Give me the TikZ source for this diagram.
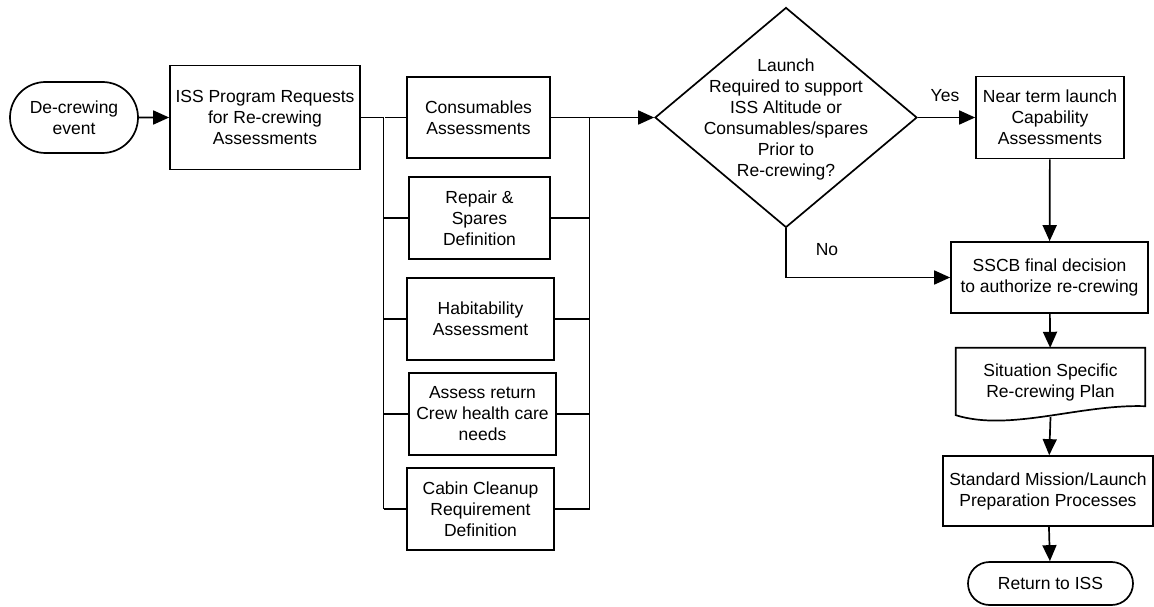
\documentclass[tikz,border=0pt]{standalone}
\usepackage{fontspec}
\setmainfont{Liberation Sans}
\usetikzlibrary{positioning,arrows.meta,shapes.geometric,shapes.misc}

\tikzset{
  flow/.style={font=\fontsize{17.5}{21}\selectfont, align=center, inner sep=2pt},
  procbox/.style={flow, draw, line width=1.7pt, rectangle},
  termbox/.style={flow, draw, line width=1.7pt, rounded rectangle},
  decbox/.style={draw, line width=1.7pt, diamond, inner sep=0pt},
  link/.style={line width=1.7pt},
  arr/.style={link, -{Triangle[length=16pt,width=14pt]}},
  bus/.style={line width=1pt, double, double distance=0.6pt},
}

\begin{document}
\begin{tikzpicture}[x=1pt, y=-1pt]
  \useasboundingbox (0,0) rectangle (1154,607);
  % Main row
  \node[termbox, minimum width=132pt, minimum height=71pt] (start) at (74,117.5) {De-crewing\\event};
  \node[procbox, minimum width=190pt, minimum height=104pt] (req) at (265,117.5) {ISS Program Requests\\for Re-crewing\\Assessments};
  % Assessment column
  \node[procbox, minimum width=143pt, minimum height=81pt] (cons) at (478.5,117.5) {Consumables\\Assessments};
  \node[procbox, minimum width=141pt, minimum height=82pt] (rep) at (479.5,218) {Repair \&\\Spares\\Definition};
  \node[procbox, minimum width=147pt, minimum height=82pt] (hab) at (480.5,319) {Habitability\\Assessment};
  \node[procbox, minimum width=147pt, minimum height=82pt] (crew) at (482.5,414) {Assess return\\Crew health care\\needs};
  \node[procbox, minimum width=147pt, minimum height=82pt] (cabin) at (480.5,509) {Cabin Cleanup\\Requirement\\Definition};
  % Decision
  \node[decbox, minimum width=262pt, minimum height=220pt] (dec) at (786,117.5) {};
  \node[flow] (dectext) at (786,119) {Launch\\Required to support\\ISS Altitude or\\Consumables/spares\\Prior to\\Re-crewing?};
  % Right column
  \node[procbox, minimum width=148pt, minimum height=82pt] (near) at (1050,117.5) {Near term launch\\Capability\\Assessments};
  \node[procbox, minimum width=197pt, minimum height=71pt] (sscb) at (1049.5,277.5) {SSCB final decision\\to authorize re-crewing};
  \node[flow, minimum width=189pt, minimum height=69pt] (plan) at (1050.5,382.5) {Situation Specific\\Re-crewing Plan};
  \draw[link] (plan.north west) -- (plan.north east) -- ([yshift=11pt]plan.south east)
    .. controls (1080,404) and (1010,432) .. ([yshift=2pt]plan.south west) -- cycle;
  \node[procbox, minimum width=210pt, minimum height=70pt] (std) at (1048,491) {Standard Mission/Launch\\Preparation Processes};
  \node[termbox, minimum width=169pt, minimum height=43pt] (ret) at (1050.5,583.5) {Return to ISS};

  % Connectors
  \draw[arr] (start) -- (req);
  \draw[link] (req.east) -- (cons.west);
  \coordinate (busL) at (384,117.5);
  \coordinate (busR) at (590,117.5);
  \draw[bus] (busL) -- (busL |- cabin.west);
  \draw[bus] (busR) -- (busR |- cabin.east);
  \foreach \b in {rep,hab,crew,cabin} {
    \draw[link] (busL |- \b.west) -- (\b.west);
    \draw[link] (\b.east) -- (busR |- \b.east);
  }
  \draw[arr] (cons.east) -- (dec.west);
  \draw[arr] (dec.east) -- (near.west);
  \node[flow] (yes) at (945,96) {Yes};
  \draw[arr] (near) -- (sscb);
  \draw[arr] (dec.south) |- (sscb.west);
  \node[flow] (no) at (827,250) {No};
  \draw[arr] (sscb) -- (plan);
  \draw[arr] (plan.south) -- (std);
  \draw[arr] (std) -- (ret);
\end{tikzpicture}
\end{document}
